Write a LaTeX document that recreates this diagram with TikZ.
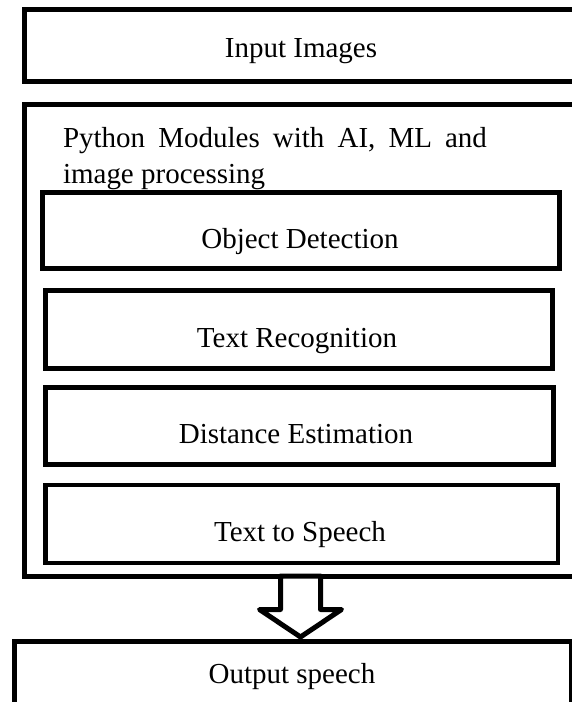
\documentclass[tikz,border=0pt]{standalone}
\usepackage{fontspec}
\setmainfont{Liberation Serif}
\usetikzlibrary{calc}
\begin{document}
\begin{tikzpicture}[x=1pt,y=-1pt,
  box/.style={draw=black, line width=5pt, inner sep=0pt, outer sep=0pt, anchor=north west, rectangle},
  lbl/.style={font=\fontsize{29}{35}\selectfont, inner sep=0pt, outer sep=0pt, anchor=base},
  blockarrow/.style={draw=black, fill=white, line width=5pt, line join=round}]
\useasboundingbox (0,0) rectangle (571,702);
% boxes
\node[box, minimum width=550.5pt, minimum height=72pt] (inp) at (24.5,9) {};
\node[box, minimum width=550.5pt, minimum height=472pt] (mods) at (24.5,104) {};
\node[box, minimum width=517pt, minimum height=76pt] (od) at (42.5,192) {};
\node[box, minimum width=507pt, minimum height=77.5pt] (tr) at (45.5,290.5) {};
\node[box, minimum width=508pt, minimum height=76.5pt] (de) at (45.5,387.5) {};
\node[box, line width=4.5pt, minimum width=512.5pt, minimum height=78pt] (ts) at (45.5,485) {};
\node[box, minimum width=556.5pt, minimum height=80pt] (outp) at (14.5,641) {};
% block arrow
\coordinate (atop) at (300.5,576);
\draw[blockarrow] ($(atop)+(-20,0)$) -- ($(atop)+(-20,33.5)$) -- ($(atop)+(-41,33.5)$)
  -- ($(atop)+(0,61)$) -- ($(atop)+(41,33.5)$) -- ($(atop)+(20,33.5)$) -- ($(atop)+(20,0)$) -- cycle;
% labels
\node[lbl] (tinp) at (301,57) {Input Images};
\node[lbl, anchor=base west] (tmods1) at (63,147) {\makebox[424pt][s]{Python Modules with AI, ML and}};
\node[lbl, anchor=base west] (tmods2) at (63,183) {image processing};
\node[lbl] (tod) at (300,248) {Object Detection};
\node[lbl] (ttr) at (297,347) {Text Recognition};
\node[lbl] (tde) at (296,443) {Distance Estimation};
\node[lbl] (tts) at (300,541) {Text to Speech};
\node[lbl] (toutp) at (292,683) {Output speech};
\end{tikzpicture}
\end{document}
